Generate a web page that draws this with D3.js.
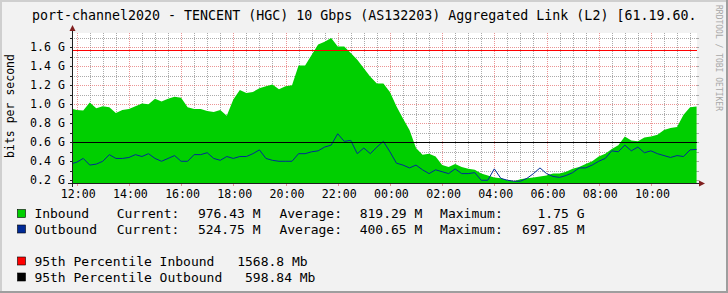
<!DOCTYPE html>
<html>
<head>
<meta charset="utf-8">
<script src="https://cdn.jsdelivr.net/npm/d3@7"></script>
<style>
  body { margin: 0; background: #f2f2f2; }
  svg { display: block; font-family: "DejaVu Sans Mono", monospace; }
</style>
</head>
<body>
<script>

// traffic in Gbit/s, one sample every 15 minutes from 11:45, last one is "current"
var inbound = [
	0.96, 0.94, 0.935, 1.02, 0.96, 0.98, 0.97, 0.91, 0.94, 0.95,
	0.98, 1.01, 1.00, 1.06, 1.03, 1.06, 1.08, 1.07, 0.97, 0.95,
	0.95, 0.93, 0.92, 0.94, 0.88, 1.05, 1.15, 1.12, 1.13, 1.17,
	1.19, 1.21, 1.16, 1.19, 1.20, 1.41, 1.41, 1.52, 1.63, 1.66,
	1.70, 1.61, 1.61, 1.54, 1.47, 1.38, 1.29, 1.22, 1.22, 1.13,
	0.98, 0.85, 0.73, 0.54, 0.47, 0.48, 0.45, 0.36, 0.34, 0.37,
	0.34, 0.32, 0.31, 0.27, 0.25, 0.23, 0.22, 0.20, 0.19, 0.21,
	0.22, 0.23, 0.24, 0.25, 0.27, 0.27, 0.29, 0.32, 0.34, 0.37,
	0.40, 0.45, 0.48, 0.53, 0.57, 0.66, 0.62, 0.61, 0.65, 0.66,
	0.68, 0.73, 0.75, 0.76, 0.89, 0.97, 0.976
];
var outbound = [
	0.37, 0.39, 0.43, 0.36, 0.37, 0.40, 0.47, 0.43, 0.43, 0.44,
	0.47, 0.45, 0.48, 0.43, 0.40, 0.43, 0.46, 0.40, 0.40, 0.47,
	0.47, 0.49, 0.43, 0.41, 0.45, 0.43, 0.45, 0.45, 0.48, 0.52,
	0.43, 0.41, 0.40, 0.40, 0.40, 0.48, 0.48, 0.50, 0.51, 0.55,
	0.57, 0.69, 0.61, 0.62, 0.48, 0.54, 0.48, 0.55, 0.61, 0.50,
	0.38, 0.36, 0.33, 0.36, 0.31, 0.27, 0.31, 0.29, 0.27, 0.32,
	0.27, 0.27, 0.28, 0.20, 0.20, 0.32, 0.22, 0.20, 0.19, 0.19,
	0.22, 0.27, 0.33, 0.27, 0.24, 0.23, 0.25, 0.28, 0.33, 0.33,
	0.36, 0.40, 0.43, 0.51, 0.50, 0.57, 0.51, 0.55, 0.49, 0.51,
	0.48, 0.46, 0.44, 0.46, 0.45, 0.52, 0.525
];

var seriesNames = ["Inbound", "Outbound"];
var currentVals = ["976.43 M", "524.75 M"];
var averageVals = ["819.29 M", "400.65 M"];
var maximumVals = ["1.75 G", "697.85 M"];

var pctNames = ["95th Percentile Inbound", "95th Percentile Outbound"];
var pctMb = [1568.8, 598.84];
var pctLabels = ["1568.8 Mb", "598.84 Mb"];

var yMajorTicks = [0.2, 0.4, 0.6, 0.8, 1.0, 1.2, 1.4, 1.6];
var yMinorTicks = [0.3, 0.5, 0.7, 0.9, 1.1, 1.3, 1.5, 1.7];

var title = "port-channel2020 - TENCENT (HGC) 10 Gbps (AS132203) Aggregated Link (L2) [61.19.60.";

// colours
var cIn = "#00cf00", cOut = "#002a97", cPctIn = "#ff0000", cPctOut = "#000000";
var gridCol = "rgba(143,143,143,0.75)", mgridCol = "rgba(222,79,79,0.6)";
var arrowCol = "#801f1f", axisCol = "#1f1f1f";

function drawGraph() {

	var W = 728, H = 293;
	var pLeft = 72, pRight = 697, pTop = 33, pBottom = 183;

	var svg = d3.select("body").append("svg")
		.attr("width", W)
		.attr("height", H);

	// frame
	svg.append("rect").attr("width", W).attr("height", H).attr("fill", "#f2f2f2");
	svg.append("rect").attr("x", 0).attr("y", 0).attr("width", W).attr("height", 2).attr("fill", "#cfcfcf");
	svg.append("rect").attr("x", 0).attr("y", 0).attr("width", 2).attr("height", H).attr("fill", "#cfcfcf");
	svg.append("rect").attr("x", 0).attr("y", H - 2).attr("width", W).attr("height", 2).attr("fill", "#9e9e9e");
	svg.append("rect").attr("x", W - 2).attr("y", 0).attr("width", 2).attr("height", H).attr("fill", "#9e9e9e");

	var t0 = new Date(2024, 0, 1, 11, 45);
	var times = inbound.map(function(d, i) { return d3.timeMinute.offset(t0, i * 15); });

	var xScale = d3.scaleTime()
		.domain([new Date(2024, 0, 1, 11, 50), new Date(2024, 0, 2, 11, 45)])
		.range([72.35, 696.6]);

	var yScale = d3.scaleLinear()
		.domain([0.171, 1.752])
		.range([pBottom, pTop]);

	function px(v) { return Math.round(v) + 0.5; }

	// canvas
	svg.append("rect")
		.attr("x", pLeft).attr("y", pTop)
		.attr("width", pRight - pLeft).attr("height", pBottom - pTop)
		.attr("fill", "#ffffff");

	// grid
	var minorX = d3.timeMinute.every(30).range(xScale.domain()[0], xScale.domain()[1])
		.filter(function(d) { return d.getHours() % 2 != 0 || d.getMinutes() != 0; });
	var majorX = xScale.ticks(d3.timeHour.every(2));

	var grid = svg.append("g");
	grid.selectAll("line.gx")
		.data(minorX).enter().append("line")
		.attr("x1", function(d) { return px(xScale(d)); })
		.attr("x2", function(d) { return px(xScale(d)); })
		.attr("y1", pTop).attr("y2", pBottom)
		.attr("stroke", gridCol).attr("stroke-dasharray", "1,1");
	grid.selectAll("line.gy")
		.data(yMinorTicks).enter().append("line")
		.attr("y1", function(d) { return px(yScale(d)); })
		.attr("y2", function(d) { return px(yScale(d)); })
		.attr("x1", pLeft).attr("x2", pRight)
		.attr("stroke", gridCol).attr("stroke-dasharray", "1,1");
	grid.selectAll("line.mx")
		.data(majorX).enter().append("line")
		.attr("x1", function(d) { return px(xScale(d)); })
		.attr("x2", function(d) { return px(xScale(d)); })
		.attr("y1", pTop).attr("y2", pBottom)
		.attr("stroke", mgridCol).attr("stroke-dasharray", "1,1");
	grid.selectAll("line.my")
		.data(yMajorTicks).enter().append("line")
		.attr("y1", function(d) { return px(yScale(d)); })
		.attr("y2", function(d) { return px(yScale(d)); })
		.attr("x1", pLeft).attr("x2", pRight)
		.attr("stroke", mgridCol).attr("stroke-dasharray", "1,1");

	svg.append("clipPath").attr("id", "clip")
		.append("rect")
		.attr("x", pLeft).attr("y", pTop)
		.attr("width", pRight - pLeft).attr("height", pBottom - pTop);

	var plot = svg.append("g").attr("clip-path", "url(#clip)");

	var area = d3.area()
		.x(function(d, i) { return xScale(times[i]); })
		.y0(pBottom)
		.y1(function(d) { return yScale(d); });

	plot.append("path")
		.datum(inbound)
		.attr("d", area)
		.attr("fill", cIn);

	var line = d3.line()
		.x(function(d, i) { return xScale(times[i]); })
		.y(function(d) { return yScale(d); });

	plot.append("path")
		.datum(outbound)
		.attr("d", line)
		.attr("fill", "none")
		.attr("stroke", cOut)
		.attr("stroke-width", 1);

	// 95th percentile rules
	plot.selectAll("line.pct")
		.data(pctMb)
		.enter()
		.append("line")
		.attr("class", "pct")
		.attr("x1", pLeft).attr("x2", pRight)
		.attr("y1", function(d) { return px(yScale(d / 1000)); })
		.attr("y2", function(d) { return px(yScale(d / 1000)); })
		.attr("stroke", function(d, i) { return i == 0 ? cPctIn : cPctOut; })
		.attr("stroke-width", 1);

	// little solid ticks outside the canvas
	var allY = yMajorTicks.concat(yMinorTicks);
	var ticks = svg.append("g");
	ticks.selectAll("line.ty")
		.data(allY).enter().append("line")
		.attr("y1", function(d) { return px(yScale(d)); })
		.attr("y2", function(d) { return px(yScale(d)); })
		.attr("x1", pLeft - 2).attr("x2", pLeft)
		.attr("stroke", axisCol);
	ticks.selectAll("line.ty2")
		.data(allY).enter().append("line")
		.attr("y1", function(d) { return px(yScale(d)); })
		.attr("y2", function(d) { return px(yScale(d)); })
		.attr("x1", pRight).attr("x2", pRight + 2)
		.attr("stroke", gridCol);
	ticks.selectAll("line.tx")
		.data(majorX).enter().append("line")
		.attr("x1", function(d) { return px(xScale(d)); })
		.attr("x2", function(d) { return px(xScale(d)); })
		.attr("y1", pBottom).attr("y2", pBottom + 3)
		.attr("stroke", mgridCol);

	// axes with arrows
	svg.append("line")
		.attr("x1", pLeft - 4).attr("x2", pRight + 3)
		.attr("y1", pBottom + 0.5).attr("y2", pBottom + 0.5)
		.attr("stroke", axisCol);
	svg.append("line")
		.attr("x1", pLeft + 0.5).attr("x2", pLeft + 0.5)
		.attr("y1", pBottom + 4).attr("y2", pTop - 3)
		.attr("stroke", axisCol);
	svg.append("path")
		.attr("d", "M" + (pRight + 2) + "," + (pBottom - 2.5) + "L" + (pRight + 8) + "," + (pBottom + 0.5) + "L" + (pRight + 2) + "," + (pBottom + 3.5) + "Z")
		.attr("fill", arrowCol);
	svg.append("path")
		.attr("d", "M" + (pLeft - 2.5) + "," + (pTop - 2) + "L" + (pLeft + 0.5) + "," + (pTop - 8) + "L" + (pLeft + 3.5) + "," + (pTop - 2) + "Z")
		.attr("fill", arrowCol);

	// tick labels
	svg.selectAll("text.yl")
		.data(yMajorTicks).enter().append("text")
		.attr("x", 65)
		.attr("y", function(d) { return yScale(d) + 4; })
		.attr("text-anchor", "end")
		.attr("font-size", "11.6px")
		.text(function(d) { return d3.format(".1f")(d) + " G"; });

	svg.selectAll("text.xl")
		.data(majorX).enter().append("text")
		.attr("x", function(d) { return xScale(d) + 1.5; })
		.attr("y", 197.5)
		.attr("text-anchor", "middle")
		.attr("font-size", "11.6px")
		.text(d3.timeFormat("%H:%M"));

	svg.append("text")
		.attr("transform", "translate(14,106) rotate(-90)")
		.attr("text-anchor", "middle")
		.attr("font-size", "11.5px")
		.text("bits per second");

	svg.append("text")
		.attr("x", 32).attr("y", 19.5)
		.attr("font-size", "13.3px")
		.text(title);

	svg.append("text")
		.attr("transform", "translate(716,5) rotate(90)")
		.attr("font-size", "8px")
		.attr("fill", "#a8a8a8")
		.text("RRDTOOL / TOBI OETIKER");

	// legend
	var legRows = [218, 233.5];
	var legColors = [cIn, cOut];
	var leg = svg.append("g").attr("font-size", "13px");
	seriesNames.forEach(function(name, i) {
		var yb = legRows[i];
		leg.append("rect").attr("x", 17.5).attr("y", yb - 8.5).attr("width", 8).attr("height", 8)
			.attr("fill", legColors[i]).attr("stroke", "#000").attr("stroke-width", 0.6);
		leg.append("text").attr("x", 34.4).attr("y", yb).text(name);
		leg.append("text").attr("x", 116.7).attr("y", yb).text("Current:");
		leg.append("text").attr("x", 260.5).attr("y", yb).attr("text-anchor", "end").text(currentVals[i]);
		leg.append("text").attr("x", 279.4).attr("y", yb).text("Average:");
		leg.append("text").attr("x", 422.3).attr("y", yb).attr("text-anchor", "end").text(averageVals[i]);
		leg.append("text").attr("x", 440.1).attr("y", yb).text("Maximum:");
		leg.append("text").attr("x", 584.5).attr("y", yb).attr("text-anchor", "end").text(maximumVals[i]);
	});

	var pctRows = [265.5, 281.5];
	var pctColors = [cPctIn, cPctOut];
	pctNames.forEach(function(name, i) {
		var yb = pctRows[i];
		leg.append("rect").attr("x", 17.5).attr("y", yb - 8.5).attr("width", 8).attr("height", 8)
			.attr("fill", pctColors[i]).attr("stroke", "#000").attr("stroke-width", 0.6);
		leg.append("text").attr("x", 34.4).attr("y", yb).text(name);
		leg.append("text").attr("x", 34.4 + (name.length + 3) * 7.8).attr("y", yb).text(pctLabels[i]);
	});
}

drawGraph();

</script>
</body>
</html>
